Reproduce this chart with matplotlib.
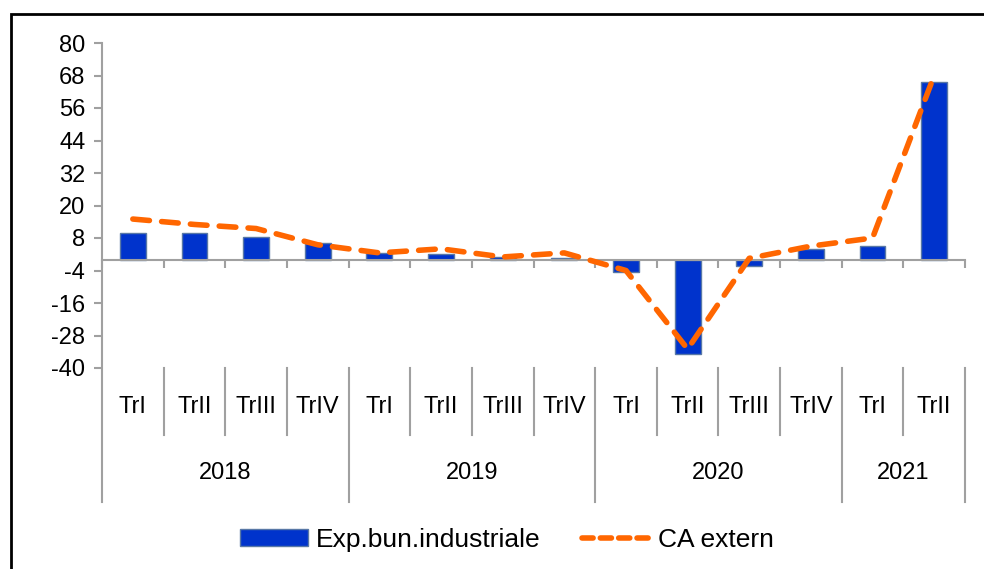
import matplotlib
matplotlib.use("Agg")
import matplotlib.pyplot as plt
from matplotlib.patches import Rectangle, Patch
from matplotlib.lines import Line2D
import numpy as np

quarters = ["TrI", "TrII", "TrIII", "TrIV", "TrI", "TrII", "TrIII", "TrIV",
            "TrI", "TrII", "TrIII", "TrIV", "TrI", "TrII"]
years = ["2018", "2019", "2020", "2021"]
year_counts = [4, 4, 4, 2]
exp_bun = [10, 10, 8.5, 6.3, 2.5, 2, 1, 0.5, -4.5, -35, -2.5, 4, 5, 65.5]
ca_extern = [15, 13, 11.5, 5.5, 2.5, 4, 1, 2.5, -4, -33, 0.5, 5, 8, 68]
yticks = list(range(-40, 81, 12))

plt.rcParams['font.family'] = ['Liberation Sans', 'DejaVu Sans']
FS = 17
W, H = 984, 569
fig = plt.figure(figsize=(W / 100, H / 100), dpi=100)
L, R, T, B = 102, 965, 43, 368
ax = fig.add_axes([L / W, 1 - B / H, (R - L) / W, (B - T) / H])

x = np.arange(len(quarters))
ax.bar(x, exp_bun, width=0.42, color="#0033CC", edgecolor="#5878A6", linewidth=1, zorder=2)
ax.plot(x, ca_extern, color="#FF6600", lw=4, dashes=(3.0, 2.2),
        dash_capstyle='round', zorder=3)

ax.set_xlim(-0.5, len(quarters) - 0.5)
ax.set_ylim(-40, 80)
ax.set_yticks(yticks)
ax.set_yticklabels([str(v) for v in yticks], fontsize=FS)
gray = "#A0A0A0"
for s in ["top", "right"]:
    ax.spines[s].set_visible(False)
ax.spines["left"].set_visible(False)
ax.spines["bottom"].set_position(("data", 0))
ax.spines["bottom"].set_color(gray)
ax.spines["bottom"].set_linewidth(1.5)
ax.tick_params(axis="y", length=6, width=1.5, color=gray, pad=6)
ax.set_xticks(np.arange(-0.5, len(quarters), 1.0))
ax.set_xticklabels([])
ax.tick_params(axis="x", length=6, width=1.5, color=gray, direction="out")

tr = ax.get_xaxis_transform()
ah = B - T
yq = -(407 - B) / ah
yy = -(473 - B) / ah
yq_end = -(435 - B) / ah
yy_end = -(502 - B) / ah

# left axis line
ax.plot([-0.5, -0.5], [1, yy_end], transform=tr, color=gray, lw=1.5, clip_on=False)

for i, q in enumerate(quarters):
    ax.text(i, yq, q, transform=tr, ha="center", va="center", fontsize=FS)

bounds = np.cumsum([0] + year_counts) - 0.5
for b in range(1, len(quarters) + 1):
    xb = b - 0.5
    if xb in bounds:
        ax.plot([xb, xb], [0, yy_end], transform=tr, color=gray, lw=1.5, clip_on=False)
    else:
        ax.plot([xb, xb], [0, yq_end], transform=tr, color=gray, lw=1.5, clip_on=False)
for k, yr in enumerate(years):
    xc = (bounds[k] + bounds[k + 1]) / 2
    ax.text(xc, yy, yr, transform=tr, ha="center", va="center", fontsize=FS)

handles = [Patch(facecolor="#0033CC", edgecolor="#5878A6", label="Exp.bun.industriale"),
           Line2D([0], [0], color="#FF6600", lw=4, dashes=(2.0, 1.3),
                  dash_capstyle='round', label="CA extern")]
fig.legend(handles=handles, loc="center", bbox_to_anchor=(507 / W, 1 - 540 / H),
           ncol=2, frameon=False, fontsize=19, handlelength=2.55, handleheight=0.6,
           handletextpad=0.3, columnspacing=1.6)

fig.patches.append(Rectangle((11 / W, -0.1), 1.2, (H - 14) / H + 0.1, transform=fig.transFigure,
                             fill=False, edgecolor="black", lw=2, figure=fig))

fig.savefig("out.png", dpi=100)
